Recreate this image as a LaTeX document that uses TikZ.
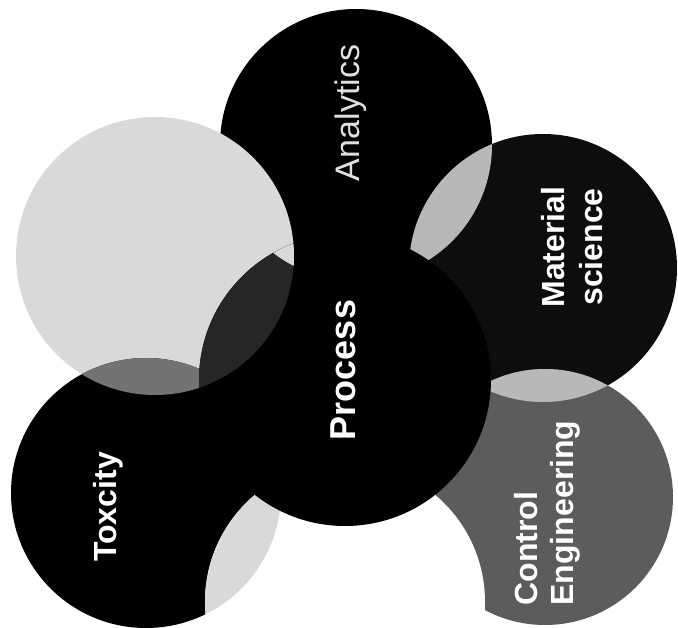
\documentclass[tikz,border=0pt]{standalone}
\usepackage{fontspec}
\setmainfont{Liberation Sans}
\usetikzlibrary{positioning}
\definecolor{PaleGray}{gray}{0.85}
\definecolor{LensGray}{gray}{0.72}
\definecolor{MidGray}{gray}{0.45}
\definecolor{CtlGray}{gray}{0.36}
\definecolor{DeepGray}{gray}{0.15}
\tikzset{
	lab/.style={text=white, rotate=90, align=center, inner sep=0pt,
		font=\bfseries\fontsize{32}{38}\selectfont},
	thinlab/.style={text=black!12, rotate=90, inner sep=0pt,
		font=\fontsize{34}{40}\selectfont}
}

\begin{document}
\begin{tikzpicture}[x=1pt, y=-1pt]
	\clip (0,0) rectangle (678,628);
	\fill[white] (0,0) rectangle (678,628);
	% circle centres
	\coordinate (ana) at (356,145);
	\coordinate (mat) at (543,268);
	\coordinate (ctl) at (545,497);
	\coordinate (bot) at (345,602);
	\coordinate (tox) at (146,493);
	\coordinate (ul) at (155,256);
	\coordinate (proc) at (345,380);
	% petals
	\fill[black] (ana) circle (136pt);
	\fill[PaleGray] (ul) circle (139pt);
	\fill[black] (tox) circle (135pt);
	\begin{scope}
		\clip (ul) circle (139pt);
		\fill[MidGray] (tox) circle (135pt);
	\end{scope}
	\fill[black!95] (mat) circle (134pt);
	\begin{scope}
		\clip (ana) circle (136pt);
		\fill[LensGray] (mat) circle (134pt);
	\end{scope}
	\fill[CtlGray] (ctl) circle (128pt);
	\begin{scope}
		\clip (mat) circle (134pt);
		\fill[LensGray] (ctl) circle (128pt);
	\end{scope}
	\fill[white] (bot) circle (140pt);
	\begin{scope}
		\clip (tox) circle (135pt);
		\fill[PaleGray] (bot) circle (140pt);
	\end{scope}
	% centre
	\fill[black] (proc) circle (146pt);
	\begin{scope}
		\clip (ul) circle (139pt);
		\fill[DeepGray] (proc) circle (146pt);
		\clip (ana) circle (136pt);
		\fill[PaleGray] (proc) circle (146pt);
	\end{scope}
	% labels
	\node[lab, font=\bfseries\fontsize{36}{40}\selectfont] (process) at (343,370) {Process};
	\node[thinlab] (analytics) at (351,113) {Analytics};
	\node[lab] (material) at (572,247) {Material\\science};
	\node[lab, align=left, font=\bfseries\fontsize{32}{36}\selectfont] (control) at (547,513) {Control\\Engineering};
	\node[lab] (toxcity) at (108,507) {Toxcity};
\end{tikzpicture}
\end{document}
